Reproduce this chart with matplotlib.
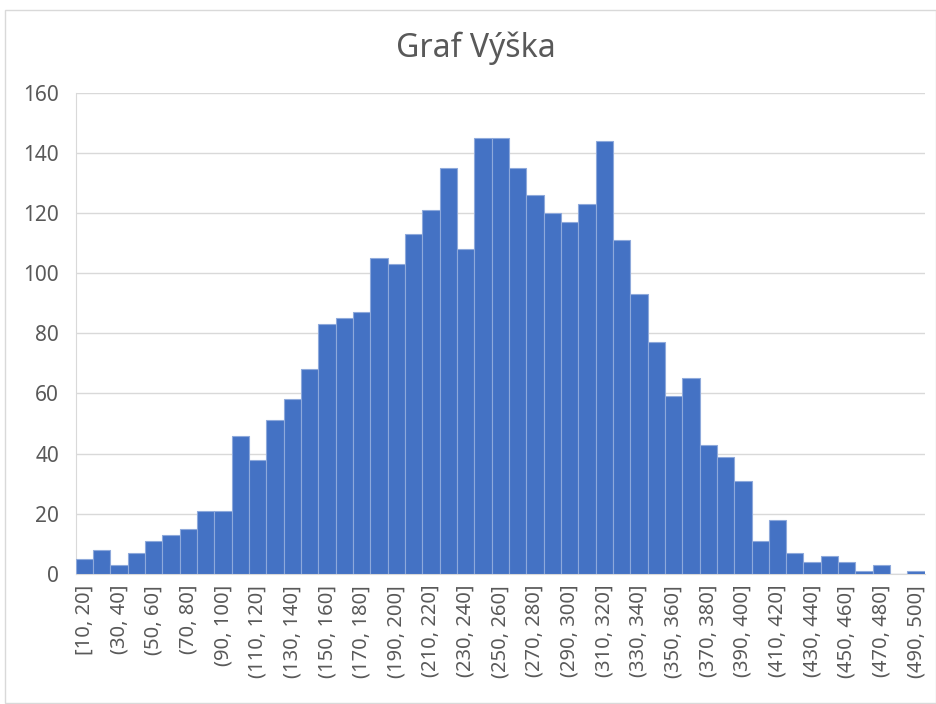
import matplotlib.pyplot as plt
from matplotlib.patches import Rectangle

plt.rcParams['font.family'] = ['Noto Sans', 'DejaVu Sans']

# bin edges 10..500 step 10
edges = list(range(10, 510, 10))
labels = ['[%d, %d]' % (edges[0], edges[1])] + \
         ['(%d, %d]' % (edges[i], edges[i + 1]) for i in range(1, len(edges) - 1)]

counts = [5, 8, 3, 7, 11, 13, 15, 21, 21, 46,
          38, 51, 58, 68, 83, 85, 87, 105, 103, 113,
          121, 135, 108, 145, 145, 135, 126, 120, 117, 123,
          144, 111, 93, 77, 59, 65, 43, 39, 31, 11,
          18, 7, 4, 6, 4, 1, 3, 0, 1]

yticks = [0, 20, 40, 60, 80, 100, 120, 140, 160]

fig = plt.figure(figsize=(9.36, 7.04), dpi=100)
ax = fig.add_axes([0.081, 0.185, 0.907, 0.683])

x = list(range(len(counts)))
ax.bar(x, counts, width=1.0, color='#4472C4', edgecolor='#8EA9DB', linewidth=0.8, zorder=3)

ax.set_xlim(-0.5, len(counts) - 0.5)
ax.set_ylim(0, 160)
ax.set_yticks(yticks)
ax.yaxis.grid(True, color='#D9D9D9', linewidth=1.0, zorder=0)
ax.set_xticks(x[::2])
ax.set_xticklabels(labels[::2], rotation=90, fontsize=14.5, color='#595959')
ax.tick_params(axis='y', labelsize=15, labelcolor='#595959', length=0, pad=12)
ax.tick_params(axis='x', length=0, pad=8)

for s in ['top', 'right']:
    ax.spines[s].set_visible(False)
ax.spines['left'].set_color('#D9D9D9')
ax.spines['bottom'].set_color('#D9D9D9')

fig.text(0.508, 0.932, 'Graf Výška', ha='center', va='center', fontsize=23, color='#595959')

# chart area frame
fig.patches.append(Rectangle((0.005, 0.002), 0.995, 0.984, transform=fig.transFigure,
                             fill=False, edgecolor='#D9D9D9', linewidth=1.0))

fig.savefig('out.png', dpi=100, facecolor='white')
